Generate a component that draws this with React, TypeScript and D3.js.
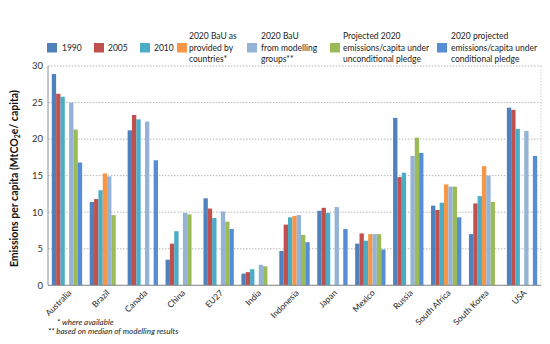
import React from "react";
import * as d3 from "d3";

const countries = ["Australia", "Brazil", "Canada", "China", "EU27", "India", "Indonesia", "Japan", "Mexico", "Russia", "South Africa", "South Korea", "USA"];
const seriesNames = ["1990", "2005", "2010", "bauCountries", "bauModels", "uncond", "cond"];
const seriesColors = ["#4F81BD", "#C0504D", "#4BACC6", "#F79646", "#95B3D7", "#9BBB59", "#558ED5"];
const legendLabels = [
  ["1990"],
  ["2005"],
  ["2010"],
  ["2020 BaU as", "provided by", "countries*"],
  ["2020 BaU", "from modelling", "groups**"],
  ["Projected 2020", "emissions/capita under", "unconditional pledge"],
  ["2020 projected", "emissions/capita under", "conditional pledge"],
];
const v1990 = [28.9, 11.4, 21.2, 3.5, 11.9, 1.6, 4.7, 10.2, 5.7, 22.9, 10.9, 7.0, 24.3];
const v2005 = [26.2, 11.8, 23.3, 5.7, 10.5, 1.8, 8.3, 10.6, 7.1, 14.8, 10.3, 11.2, 24.0];
const v2010 = [25.8, 13.0, 22.7, 7.4, 9.2, 2.2, 9.3, 9.9, 6.1, 15.4, 11.3, 12.2, 21.4];
const vBauCountries = [null, 15.3, null, null, null, null, 9.5, null, 7.0, null, 13.8, 16.3, null];
const vBauModels = [25.0, 14.9, 22.4, 9.9, 10.1, 2.8, 9.6, 10.7, 7.0, 17.7, 13.5, 15.0, 21.1];
const vUncond = [21.3, 9.6, null, 9.7, 8.7, 2.6, 6.9, null, 7.0, 20.2, 13.5, 11.4, null];
const vCond = [16.8, null, 17.1, null, 7.7, null, 5.9, 7.7, 4.9, 18.1, 9.3, null, 17.7];
const allSeries = [v1990, v2005, v2010, vBauCountries, vBauModels, vUncond, vCond];
const yTicks = [0, 5, 10, 15, 20, 25, 30];
const footnotes = ["* where available", "** based on median of modelling results"];

const W = 550, H = 344;
const plot = { left: 48, right: 541, top: 66, bottom: 285.3 };
const font = "Lato, 'Open Sans', sans-serif";

export default function App() {
  const x0 = d3.scaleBand<string>().domain(countries).range([plot.left, plot.right]).paddingInner(0.2).paddingOuter(0.1);
  const x1 = d3.scaleBand<string>().domain(seriesNames).range([0, x0.bandwidth()]).padding(0);
  const y = d3.scaleLinear().domain([0, 30]).range([plot.bottom, plot.top]);

  const legendX = [47, 94, 140, 177, 247, 330, 437];
  const legendTextX = [62, 108, 154, 189, 261, 343, 451];

  return (
    <svg width={W} height={H} style={{ position: "absolute", left: 0, top: 0, background: "#fff" }} fontFamily={font}>
      {/* grid */}
      {yTicks.map((t) => (
        <line key={t} x1={plot.left} x2={plot.right} y1={y(t)} y2={y(t)} stroke="#b8b8b8" strokeWidth={1} strokeDasharray="1.5,1.5" />
      ))}
      <line x1={plot.right} x2={plot.right} y1={plot.top} y2={plot.bottom} stroke="#cfcfcf" strokeDasharray="1.5,1.5" />
      {/* bars */}
      {allSeries.map((vals, si) =>
        vals.map((v, ci) =>
          v == null ? null : (
            <rect
              key={`${si}-${ci}`}
              x={(x0(countries[ci]) as number) + (x1(seriesNames[si]) as number)}
              y={y(v)}
              width={x1.bandwidth()}
              height={plot.bottom - y(v)}
              fill={seriesColors[si]}
            />
          )
        )
      )}
      {/* axes */}
      <line x1={plot.left} x2={plot.left} y1={plot.top} y2={plot.bottom} stroke="#8c8c8c" />
      <line x1={plot.left} x2={plot.right} y1={plot.bottom} y2={plot.bottom} stroke="#8c8c8c" />
      {yTicks.map((t) => (
        <text key={t} x={43} y={y(t)} dy="0.35em" textAnchor="end" fontSize={9.5} fill="#333">
          {t}
        </text>
      ))}
      <text transform={`translate(18,${(plot.top + plot.bottom) / 2 + 3}) rotate(-90)`} textAnchor="middle" fontSize={10.5} fontWeight="bold" fill="#111">
        Emissions per capita (MtCO<tspan fontSize={7} dy={2}>2</tspan><tspan dy={-2}>e/ capita)</tspan>
      </text>
      {countries.map((c) => {
        const cx = (x0(c) as number) + x0.bandwidth() / 2 + 3;
        return (
          <text key={c} transform={`translate(${cx},${plot.bottom + 6}) rotate(-45)`} textAnchor="end" fontSize={8.5} fill="#222" dy="0.35em">
            {c}
          </text>
        );
      })}
      {/* footnotes */}
      <text x={57} y={325} fontSize={8} fontStyle="italic" fill="#222">{footnotes[0]}</text>
      <text x={48} y={334} fontSize={8} fontStyle="italic" fill="#222">{footnotes[1]}</text>
      {/* legend */}
      {legendLabels.map((lines, i) => (
        <g key={i}>
          <rect x={legendX[i]} y={43} width={10} height={9.5} fill={seriesColors[i]} />
          {lines.map((ln, j) => {
            const yy = lines.length === 1 ? 48 : 36.5 + j * 11.3;
            return (
              <text key={j} x={legendTextX[i]} y={yy} dy="0.35em" fontSize={8.5} fill="#222">
                {ln}
              </text>
            );
          })}
        </g>
      ))}
    </svg>
  );
}
